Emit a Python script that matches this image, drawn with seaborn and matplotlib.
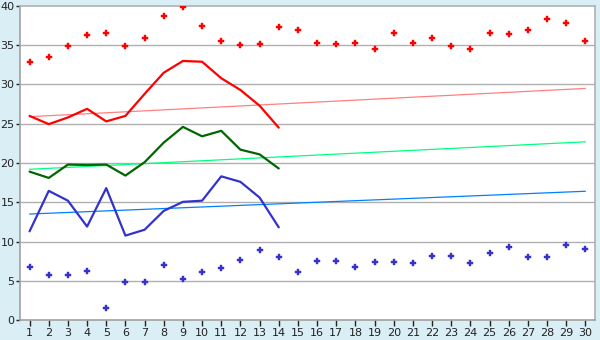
import matplotlib
matplotlib.use("Agg")
import matplotlib.pyplot as plt
import seaborn as sns
import pandas as pd
import numpy as np

days = list(range(1, 31))

max_points = [32.9, 33.5, 34.9, 36.3, 36.5, 34.9, 35.9, 38.7, 39.9, 37.4,
              35.6, 35.0, 35.1, 37.3, 37.0, 35.3, 35.2, 35.3, 34.5, 36.5,
              35.3, 35.9, 34.9, 34.5, 36.5, 36.4, 37.0, 38.4, 37.8, 35.5]
min_points = [6.7, 5.7, 5.7, 6.2, 1.5, 4.8, 4.9, 7.0, 5.2, 6.1,
              6.6, 7.6, 8.9, 8.0, 6.1, 7.5, 7.5, 6.7, 7.35, 7.35,
              7.2, 8.2, 8.2, 7.2, 8.5, 9.3, 8.0, 8.0, 9.5, 9.0]

line_days = list(range(1, 15))
max_line = [26.0, 24.95, 25.8, 26.9, 25.3, 26.0, 28.8, 31.5, 33.0, 32.9,
            30.8, 29.3, 27.3, 24.5]
mean_line = [18.9, 18.1, 19.8, 19.75, 19.8, 18.4, 20.1, 22.6, 24.6, 23.4,
             24.1, 21.7, 21.1, 19.3]
min_line = [11.3, 16.45, 15.2, 11.9, 16.8, 10.75, 11.5, 13.9, 15.05, 15.2,
            18.3, 17.6, 15.6, 11.8]

trend_days = [1, 30]
max_trend = [25.9, 29.5]
mean_trend = [19.2, 22.7]
min_trend = [13.5, 16.4]

y_ticks = [0, 5, 10, 15, 20, 25, 30, 35, 40]

sns.set_theme(style="white")
plt.rcParams['font.family'] = ['DejaVu Sans']

bg = "#daeef6"
fig = plt.figure(figsize=(6, 3.4), dpi=100, facecolor=bg)
ax = fig.add_axes([20/600, 20/340, 575/600, 314/340])
ax.set_facecolor("white")

for v in y_ticks[1:-1]:
    ax.axhline(v, color="#b0b0b0", lw=1.0, zorder=1)

df_t = pd.DataFrame({"day": trend_days, "max": max_trend, "mean": mean_trend, "min": min_trend})
sns.lineplot(data=df_t, x="day", y="max", ax=ax, color="#ff8080", lw=0.9, zorder=2)
sns.lineplot(data=df_t, x="day", y="mean", ax=ax, color="#00ff80", lw=0.9, zorder=2)
sns.lineplot(data=df_t, x="day", y="min", ax=ax, color="#0080ff", lw=0.9, zorder=2)

df_l = pd.DataFrame({"day": line_days, "max": max_line, "mean": mean_line, "min": min_line})
sns.lineplot(data=df_l, x="day", y="max", ax=ax, color="#ff0000", lw=1.6, zorder=3)
sns.lineplot(data=df_l, x="day", y="mean", ax=ax, color="#006600", lw=1.6, zorder=3)
sns.lineplot(data=df_l, x="day", y="min", ax=ax, color="#3333cc", lw=1.6, zorder=3)

df_p = pd.DataFrame({"day": days, "max": max_points, "min": min_points})
sns.scatterplot(data=df_p, x="day", y="max", ax=ax, color="#ff0000", marker="P",
                s=20, linewidth=0.3, edgecolor="#ff0000", zorder=4)
sns.scatterplot(data=df_p, x="day", y="min", ax=ax, color="#3333cc", marker="P",
                s=20, linewidth=0.3, edgecolor="#3333cc", zorder=4)

ax.set_xlim(0.5, 30.5)
ax.set_ylim(0, 40)
ax.set_xticks(days)
ax.set_xticklabels([str(d) for d in days])
ax.set_yticks(y_ticks)
ax.set_yticklabels([str(v) for v in y_ticks])
ax.set_xlabel("")
ax.set_ylabel("")
ax.tick_params(axis="both", which="both", labelsize=8, colors="#222222",
               length=4, width=1, pad=2, direction="out")
ax.tick_params(axis="y", length=3, pad=1)
ax.tick_params(bottom=True, left=True)
for s in ["top", "right"]:
    ax.spines[s].set_color("#b0b0b0")
    ax.spines[s].set_linewidth(1.2)
for s in ["left", "bottom"]:
    ax.spines[s].set_color("#a0a0a0")
    ax.spines[s].set_linewidth(1.2)
ax.grid(False)

fig.savefig("out.png", dpi=100, facecolor=bg)
